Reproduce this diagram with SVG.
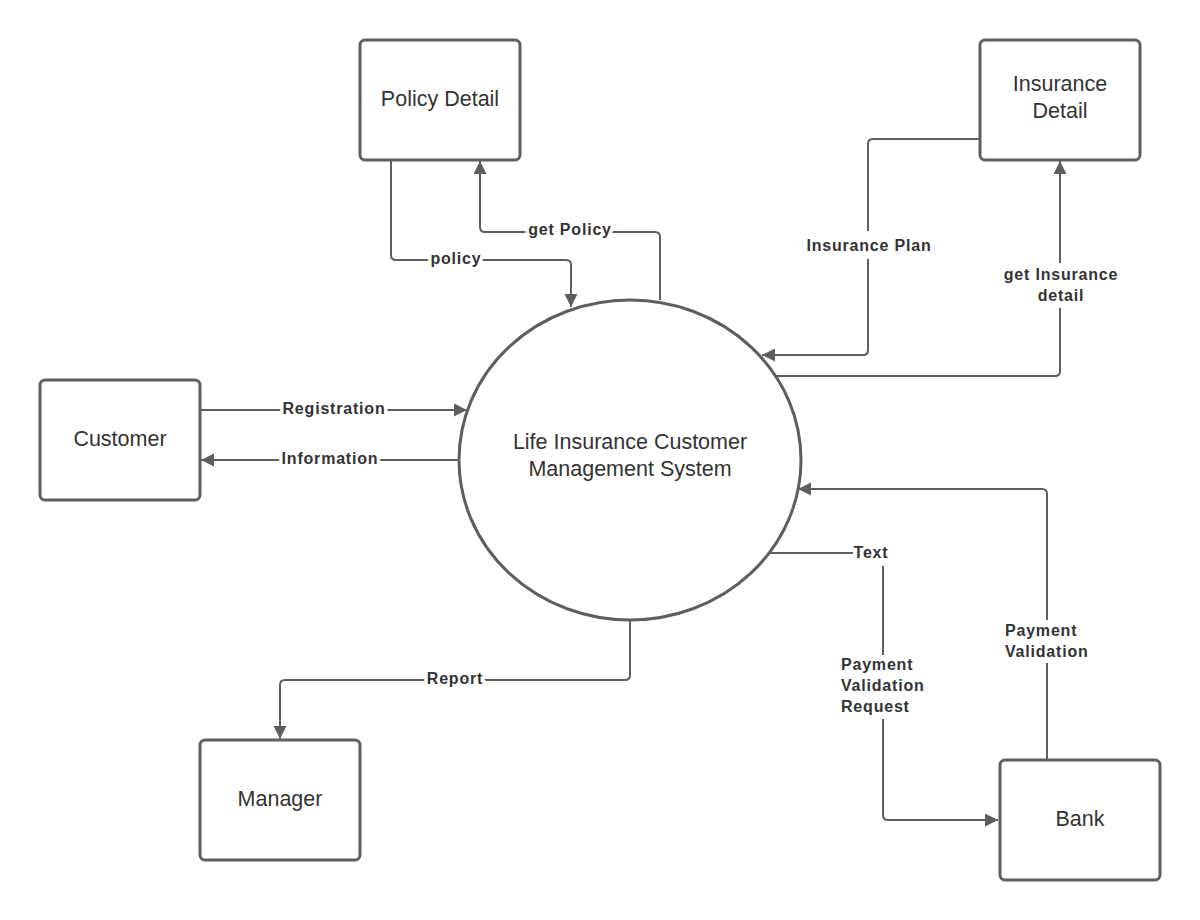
<svg xmlns="http://www.w3.org/2000/svg" width="1200" height="920" viewBox="0 0 1200 920">
<defs>
<style>
.node{fill:#fff;stroke:#5e5e5e;stroke-width:3}
.nt{font-family:"Liberation Sans",Arial,sans-serif;font-size:21.5px;fill:#333;text-anchor:middle}
.ln{fill:none;stroke:#5e5e5e;stroke-width:2}
.lb{font-family:"Liberation Sans",Arial,sans-serif;font-size:16px;font-weight:bold;fill:#333;letter-spacing:0.8px}
.hl{stroke:#fff;stroke-width:7;paint-order:stroke;stroke-linejoin:round}
.bg{fill:#fff;stroke:none}
</style>
<marker id="arr" markerUnits="userSpaceOnUse" markerWidth="14" markerHeight="14" refX="13" refY="6.5" orient="auto">
<path d="M0,0 L13,6.5 L0,13 z" fill="#5e5e5e"/>
</marker>
</defs>
<rect width="1200" height="920" fill="#fff"/>

<g id="connectors">
<path class="ln" marker-end="url(#arr)" d="M391,160 V255 Q391,260 396,260 H566 Q571,260 571,265 V307"/>
<path class="ln" marker-end="url(#arr)" d="M660,300 V237 Q660,232 655,232 H485 Q480,232 480,227 V161"/>
<path class="ln" marker-end="url(#arr)" d="M980,139 H873 Q868,139 868,144 V350 Q868,355 863,355 H762"/>
<path class="ln" marker-end="url(#arr)" d="M775,376 H1055 Q1060,376 1060,371 V161"/>
<path class="ln" marker-end="url(#arr)" d="M201,410 H467"/>
<path class="ln" marker-end="url(#arr)" d="M459,460 H201"/>
<path class="ln" marker-end="url(#arr)" d="M1047,760 V494 Q1047,489 1042,489 H798"/>
<path class="ln" marker-end="url(#arr)" d="M767,553 H878 Q883,553 883,558 V815 Q883,820 888,820 H998"/>
<path class="ln" marker-end="url(#arr)" d="M630,620 V675 Q630,680 625,680 H285 Q280,680 280,685 V739"/>

<rect class="bg" x="853" y="543" width="37" height="23"/>
<rect class="bg" x="838" y="655" width="92" height="64"/>
<rect class="bg" x="1002" y="620" width="92" height="43"/>
<rect class="bg" x="1000" y="263" width="124" height="45"/>
<rect class="bg" x="804" y="231" width="131" height="28"/>

<text class="lb hl" x="456" y="264" text-anchor="middle">policy</text>
<text class="lb hl" x="570" y="235" text-anchor="middle">get Policy</text>
<text class="lb" x="869" y="251" text-anchor="middle">Insurance Plan</text>
<text class="lb" x="1061" y="280" text-anchor="middle">get Insurance</text>
<text class="lb" x="1061" y="301" text-anchor="middle">detail</text>
<text class="lb hl" x="334" y="414" text-anchor="middle">Registration</text>
<text class="lb hl" x="330" y="464" text-anchor="middle">Information</text>
<text class="lb" x="871" y="558" text-anchor="middle">Text</text>
<text class="lb" x="841" y="670">Payment</text>
<text class="lb" x="841" y="691">Validation</text>
<text class="lb" x="841" y="712">Request</text>
<text class="lb" x="1005" y="636">Payment</text>
<text class="lb" x="1005" y="657">Validation</text>
<text class="lb hl" x="455" y="684" text-anchor="middle">Report</text>
</g>

<g id="system">
<ellipse class="node" cx="630" cy="460" rx="171" ry="160"/>
<text class="nt" x="630" y="449">Life Insurance Customer</text>
<text class="nt" x="630" y="476">Management System</text>
</g>
<g id="policy-detail">
<rect class="node" x="360" y="40" width="160" height="120" rx="5"/>
<text class="nt" x="440" y="106">Policy Detail</text>
</g>
<g id="insurance-detail">
<rect class="node" x="980" y="40" width="160" height="120" rx="5"/>
<text class="nt" x="1060" y="91">Insurance</text>
<text class="nt" x="1060" y="118">Detail</text>
</g>
<g id="customer">
<rect class="node" x="40" y="380" width="160" height="120" rx="5"/>
<text class="nt" x="120" y="446">Customer</text>
</g>
<g id="manager">
<rect class="node" x="200" y="740" width="160" height="120" rx="5"/>
<text class="nt" x="280" y="806">Manager</text>
</g>
<g id="bank">
<rect class="node" x="1000" y="760" width="160" height="120" rx="5"/>
<text class="nt" x="1080" y="826">Bank</text>
</g>
</svg>
